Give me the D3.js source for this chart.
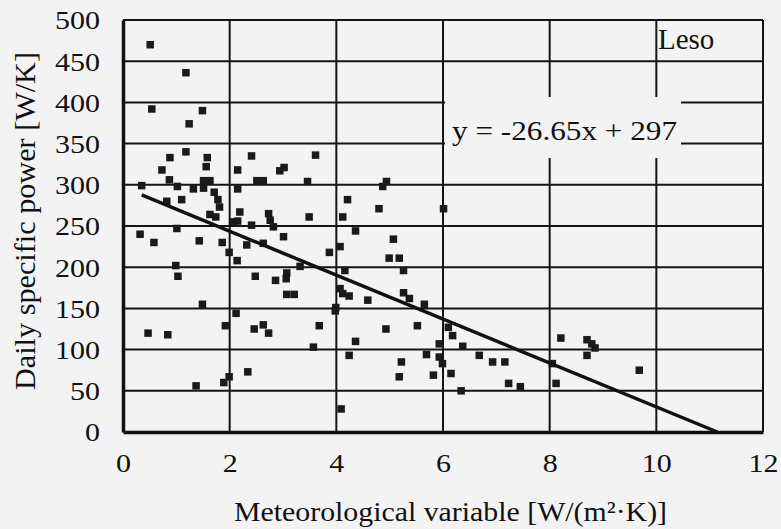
<!DOCTYPE html>
<html>
  <head>
    <meta charset="utf-8">
    <style>
      body {
        padding: 0;
        margin: 0;
        background: #f3f3f3;
      }
      svg text {
        font-family: 'Liberation Serif', 'Times New Roman', serif;
        fill: #111;
      }
    </style>
  </head>
  <body>
    <div id="chart"></div>
    <script src="https://cdn.jsdelivr.net/npm/d3@7"></script>
    <script>
      // meteorological variable [W/(m2.K)] for each day
      var xVals = [
        0.51, 1.18, 0.54, 1.49, 1.24, 1.18, 0.88, 1.58, 1.56, 2.41,
        3.61, 0.73, 2.15, 2.94, 3.02, 0.87, 1.51, 1.63, 2.51, 2.63,
        3.46, 0.35, 1.02, 1.32, 1.51, 2.15, 1.71, 1.78, 0.82, 1.10,
        1.81, 1.63, 1.74, 2.19, 2.73, 2.76, 3.49, 2.07, 2.15, 2.41,
        2.82, 1.01, 0.32, 0.58, 1.43, 1.86, 3.01, 2.32, 2.63, 1.99,
        2.14, 3.32, 3.87, 0.99, 1.03, 2.48, 2.86, 3.07, 3.06, 3.07,
        3.21, 1.49, 2.12, 1.92, 0.47, 0.84, 2.46, 2.63, 2.73, 3.68,
        3.57, 2.34, 1.99, 1.89, 1.37, 4.94, 4.87, 4.21, 4.80, 4.12,
        6.01, 4.36, 4.07, 5.07, 4.99, 5.18, 5.26, 4.16, 4.07, 4.12,
        4.24, 4.59, 3.99, 3.98, 5.26, 5.37, 5.65, 4.93, 5.52, 4.36,
        4.24, 6.10, 6.18, 5.93, 6.37, 5.69, 5.93, 5.99, 5.22, 5.18,
        5.82, 6.15, 6.34, 6.68, 6.93, 7.16, 7.23, 7.45, 4.09, 8.21,
        8.70, 8.79, 8.70, 8.85, 9.68, 8.12, 8.05
      ];
      // daily specific power [W/K]
      var yVals = [
        470, 436, 392, 390, 374, 340, 333, 333, 322, 335,
        336, 318, 318, 317, 321, 306, 305, 305, 305, 305,
        304, 299, 298, 295, 296, 295, 291, 282, 280, 282,
        273, 264, 261, 267, 265, 257, 261, 255, 256, 251,
        249, 247, 240, 230, 232, 230, 237, 227, 229, 218,
        208, 201, 218, 202, 189, 189, 184, 193, 186, 167,
        167, 155, 144, 129, 120, 118, 125, 130, 120, 129,
        103, 73, 67, 60, 56, 304, 298, 282, 271, 261,
        271, 244, 225, 234, 211, 211, 196, 196, 174, 168,
        165, 160, 151, 147, 169, 162, 155, 125, 129, 110,
        93, 127, 117, 107, 104, 94, 91, 83, 85, 67,
        69, 71, 50, 93, 85, 85, 59, 55, 28, 114,
        112, 107, 93, 102, 75, 59, 83
      ];

      var xTicks = [0, 2, 4, 6, 8, 10, 12];
      var yTicks = [0, 50, 100, 150, 200, 250, 300, 350, 400, 450, 500];

      // linear fit y = slope * x + intercept
      var slope = -26.65,
          intercept = 297;
      var fitStart = 0.35,
          fitEnd = -intercept / slope;

      var W = 781, H = 529;
      var margin = {top: 20, right: 18, bottom: 97, left: 123},
          width = W - margin.left - margin.right,
          height = H - margin.top - margin.bottom;

      var svg = d3.select("#chart").append("svg")
          .attr("width", W)
          .attr("height", H),
          g = svg.append("g")
          .attr("transform", "translate(" + margin.left + "," + margin.top + ")");

      var x = d3.scaleLinear().domain([0, 12]).range([0, width]),
          y = d3.scaleLinear().domain([0, 500]).range([height, 0]);

      // grid
      g.append("g")
        .selectAll("line")
        .data(yTicks.slice(1))
        .enter().append("line")
          .attr("x1", 0).attr("x2", width)
          .attr("y1", d => y(d)).attr("y2", d => y(d))
          .attr("stroke", "#151515")
          .attr("stroke-width", 2);

      g.append("g")
        .selectAll("line")
        .data(xTicks.slice(1))
        .enter().append("line")
          .attr("x1", d => x(d)).attr("x2", d => x(d))
          .attr("y1", 0).attr("y2", height)
          .attr("stroke", "#151515")
          .attr("stroke-width", 2);

      // axes
      var xAxis = g.append("g")
        .attr("transform", "translate(0," + height + ")")
        .call(d3.axisBottom(x).tickValues(xTicks).tickSize(0).tickPadding(22));
      var yAxis = g.append("g")
        .call(d3.axisLeft(y).tickValues(yTicks).tickSize(0).tickPadding(23));

      // the serif digits are drawn a little wide
      [xAxis, yAxis].forEach(function (a) {
        a.select(".domain")
          .attr("stroke", "#111")
          .attr("stroke-width", 3.5);
        a.selectAll(".tick text")
          .attr("font-family", "'Liberation Serif', serif")
          .attr("font-size", "26px")
          .attr("fill", "#111")
          .attr("textLength", function () { return this.textContent.length * 15; })
          .attr("lengthAdjust", "spacingAndGlyphs");
      });
      yAxis.selectAll(".tick text").attr("dy", "0.34em");

      // points
      var pts = d3.zip(xVals, yVals);
      g.append("g")
        .selectAll("rect")
        .data(pts)
        .enter().append("rect")
          .attr("x", d => x(d[0]) - 3.75)
          .attr("y", d => y(d[1]) - 3.75)
          .attr("width", 7.5)
          .attr("height", 7.5)
          .attr("fill", "#1a1a1a");

      // trend line
      var line = d3.line()
        .x(d => x(d))
        .y(d => y(slope * d + intercept));

      g.append("path")
        .datum([fitStart, fitEnd])
        .attr("fill", "none")
        .attr("stroke", "#111")
        .attr("stroke-width", 3.5)
        .attr("d", line);

      // equation label with its own backdrop
      svg.append("rect")
        .attr("x", 445)
        .attr("y", 97)
        .attr("width", 236)
        .attr("height", 61)
        .attr("fill", "#f3f3f3");

      svg.append("text")
        .attr("x", 452)
        .attr("y", 140)
        .attr("font-size", "28px")
        .attr("textLength", 225)
        .attr("lengthAdjust", "spacingAndGlyphs")
        .text("y = -26.65x + 297");

      svg.append("text")
        .attr("x", 658)
        .attr("y", 49)
        .attr("font-size", "29px")
        .text("Leso");

      // axis titles
      svg.append("text")
        .attr("x", 234)
        .attr("y", 521)
        .attr("font-size", "28px")
        .attr("textLength", 433)
        .attr("lengthAdjust", "spacingAndGlyphs")
        .text("Meteorological variable [W/(m²·K)]");

      svg.append("text")
        .attr("transform", "translate(35,390) rotate(-90)")
        .attr("font-size", "29px")
        .attr("textLength", 338)
        .attr("lengthAdjust", "spacingAndGlyphs")
        .text("Daily specific power [W/K]");
    </script>
  </body>
</html>
